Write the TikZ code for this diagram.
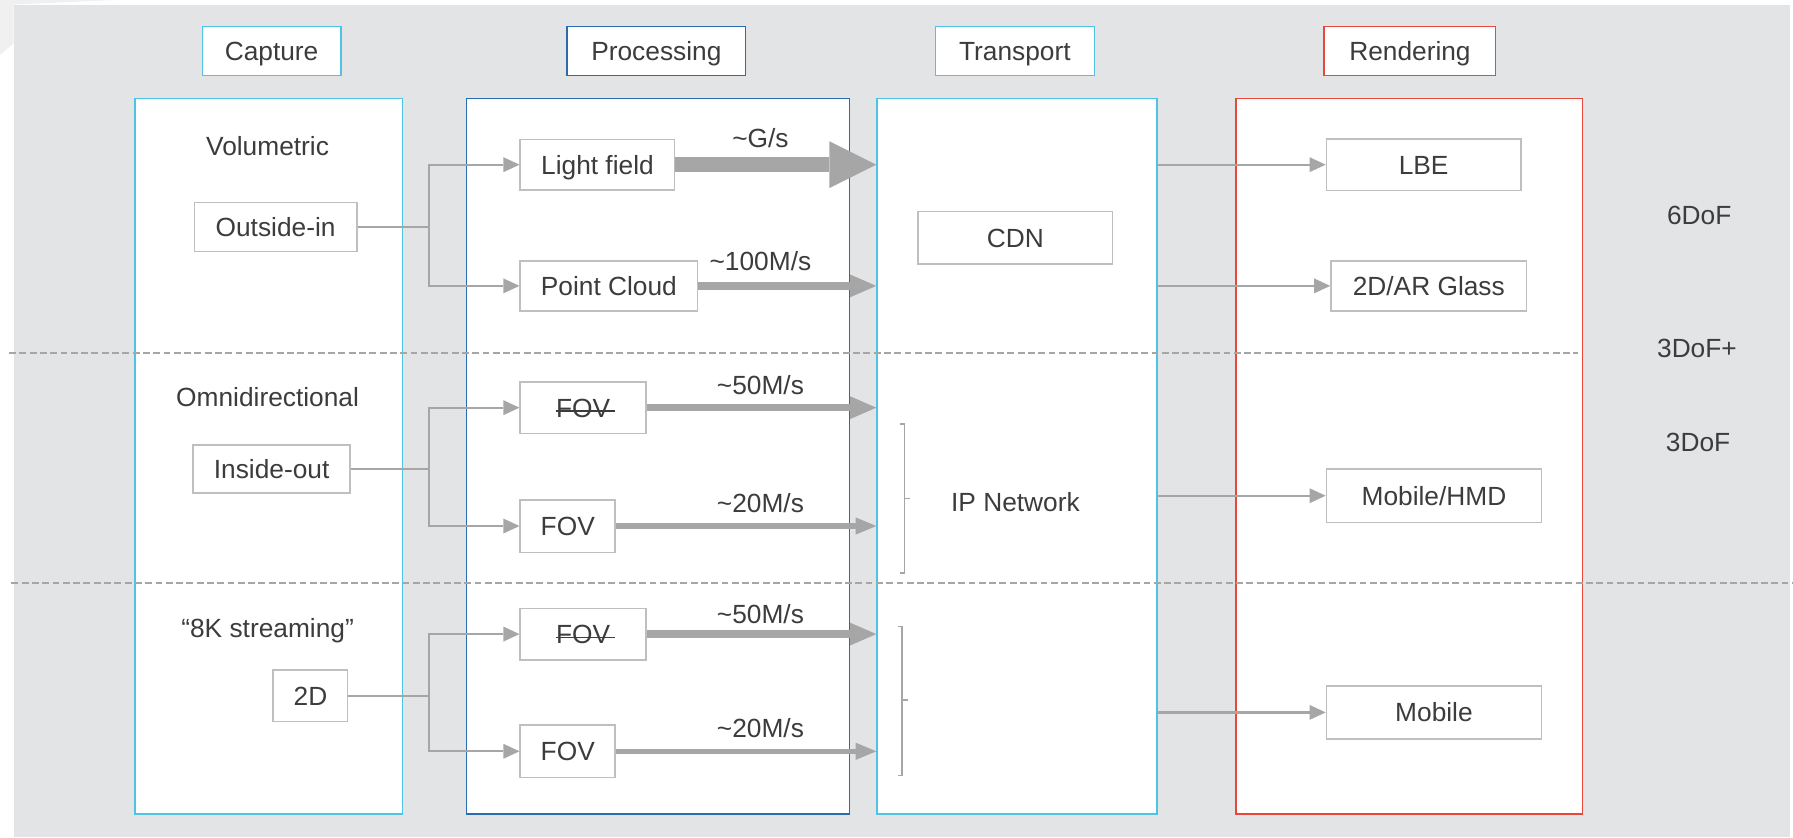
\documentclass[tikz,border=0pt]{standalone}
\usepackage{fontspec}
\setmainfont{Liberation Sans}
\usetikzlibrary{arrows.meta}

\definecolor{panelgray}{HTML}{E3E4E6}
\definecolor{txtgray}{HTML}{3C3C3C}
\definecolor{boxgray}{HTML}{BFBFBF}
\definecolor{arrgray}{HTML}{A6A6A6}
\definecolor{capblue}{HTML}{4FC3E6}
\definecolor{procblue}{HTML}{2B6CB0}
\definecolor{rendred}{HTML}{E8473B}

\tikzset{
  every node/.style={font=\fontsize{23}{27}\selectfont, text=txtgray, text height=16.5pt, text depth=0pt},
  title/.style={draw, fill=white, line width=1.3pt, minimum height=43pt, inner sep=0pt},
  stage/.style={draw, fill=white, line width=1.3pt, minimum height=626pt, inner sep=0pt},
  item/.style={draw=boxgray, fill=white, line width=1.4pt, inner sep=0pt},
  conn/.style={draw=arrgray, line width=2pt, -{Triangle[length=14pt,width=13pt,line width=0pt]}},
  gflow/.style={draw=arrgray, line width=13pt, -{Triangle[length=41pt,width=41pt,line width=0pt]}},
  mflow/.style={draw=arrgray, line width=6.5pt, -{Triangle[length=23pt,width=20pt,line width=0pt]}},
  sflow/.style={draw=arrgray, line width=4.5pt, -{Triangle[length=18pt,width=15pt,line width=0pt]}},
  split/.style={draw=arrgray, line width=1.8pt, dash pattern=on 6pt off 3pt},
  bracket/.style={draw=arrgray, line width=1.4pt},
  strike/.style={draw=txtgray, line width=1.3pt}
}

\begin{document}
\begin{tikzpicture}[x=1pt,y=-1pt]
  \useasboundingbox (0,0) rectangle (1568,732);
  \fill[black!6] (0,0) -- (100,0) -- (12,4) -- (12,38) -- (0,48) -- cycle;
  \fill[panelgray] (12,4) rectangle (1565,732);

  % stage titles
  \node[title, draw=capblue, minimum width=121pt] (tcap) at (237.5,44.5) {Capture};
  \node[title, draw=procblue, minimum width=156pt] (tproc) at (574,44.5) {Processing};
  \node[title, draw=capblue, minimum width=139pt] (ttran) at (887.5,44.5) {Transport};
  \node[title, draw=rendred, minimum width=150pt] (trend) at (1233,44.5) {Rendering};

  % stage boxes
  \node[stage, draw=capblue, minimum width=234pt] (cap) at (235,399) {};
  \node[stage, draw=procblue, minimum width=335pt] (proc) at (575.5,399) {};
  \node[stage, draw=capblue, minimum width=245pt] (tran) at (889.5,399) {};
  \node[stage, draw=rendred, minimum width=303pt] (rend) at (1232.5,399) {};

  % capture
  \node (vol) at (234,128) {Volumetric};
  \node (omni) at (234,347) {Omnidirectional};
  \node (eightk) at (234,549) {“8K streaming”};
  \node[item, minimum width=142pt, minimum height=43pt] (oi) at (241,198.5) {Outside-in};
  \node[item, minimum width=137pt, minimum height=42pt] (io) at (237.5,410) {Inside-out};
  \node[item, minimum width=65pt, minimum height=45pt] (twod) at (271.5,608.5) {2D};

  % processing
  \node[item, minimum width=135pt, minimum height=44pt] (lf) at (522.5,144) {Light field};
  \node[item, minimum width=155pt, minimum height=44pt] (pc) at (532.5,250) {Point Cloud};
  \node[item, minimum width=110pt, minimum height=45pt] (fova) at (510,356.5) {FOV};
  \node[item, minimum width=83pt, minimum height=46pt] (fovb) at (496.5,460) {FOV};
  \node[item, minimum width=110pt, minimum height=45pt] (fovc) at (510,554.5) {FOV};
  \node[item, minimum width=83pt, minimum height=46pt] (fovd) at (496.5,657) {FOV};
  \draw[strike] ([shift={(-24pt,-3pt)}]fova.center) -- ([shift={(28pt,-3pt)}]fova.center);
  \draw[strike] ([shift={(-24pt,-3pt)}]fovc.center) -- ([shift={(28pt,-3pt)}]fovc.center);

  % transport
  \node[item, minimum width=170pt, minimum height=46pt] (cdn) at (888,208) {CDN};
  \node (ipnet) at (888,439) {IP Network};

  % rendering
  \node[item, minimum width=170pt, minimum height=45pt] (lbe) at (1245,144) {LBE};
  \node[item, minimum width=171pt, minimum height=44pt] (arg) at (1249.5,250) {2D/AR Glass};
  \node[item, minimum width=188pt, minimum height=47pt] (hmd) at (1254,433.5) {Mobile/HMD};
  \node[item, minimum width=188pt, minimum height=46pt] (mob) at (1254,623) {Mobile};

  % degrees of freedom
  \node (six) at (1486,188) {6DoF};
  \node (threep) at (1484,304) {3DoF+};
  \node (three) at (1485,387) {3DoF};

  % capture -> processing
  \coordinate (fork) at (375,0);
  \draw[conn] (oi.east) -- (oi.east -| fork) |- (lf.west);
  \draw[conn] (oi.east) -- (oi.east -| fork) |- (pc.west);
  \draw[conn] (io.east) -- (io.east -| fork) |- (fova.west);
  \draw[conn] (io.east) -- (io.east -| fork) |- (fovb.west);
  \draw[conn] (twod.east) -- (twod.east -| fork) |- (fovc.west);
  \draw[conn] (twod.east) -- (twod.east -| fork) |- (fovd.west);

  % processing -> transport
  \draw[gflow] (lf.east) -- (lf.east -| tran.west);
  \draw[mflow] (pc.east) -- (pc.east -| tran.west);
  \draw[mflow] (fova.east) -- (fova.east -| tran.west);
  \draw[sflow] (fovb.east) -- (fovb.east -| tran.west);
  \draw[mflow] (fovc.east) -- (fovc.east -| tran.west);
  \draw[sflow] (fovd.east) -- (fovd.east -| tran.west);
  \node (rg) at (665,121) {\textasciitilde G/s};
  \node (rh) at (665,228) {\textasciitilde 100M/s};
  \node (rfa) at (665,337) {\textasciitilde 50M/s};
  \node (rfb) at (665,440) {\textasciitilde 20M/s};
  \node (rfc) at (665,537) {\textasciitilde 50M/s};
  \node (rfd) at (665,637) {\textasciitilde 20M/s};

  % transport -> rendering
  \draw[conn] (tran.east |- lbe.west) -- (lbe.west);
  \draw[conn] (tran.east |- arg.west) -- (arg.west);
  \draw[conn] (tran.east |- hmd.west) -- (hmd.west);
  \draw[conn] (tran.east |- mob.west) -- (mob.west);

  % brackets
  \draw[bracket] (787,371) -- (791,371) -- (791,501) -- (787,501) (791,436) -- (796,436);
  \draw[bracket] (785,548) -- (789,548) -- (789,678) -- (785,678) (789,612) -- (794,612);

  % dof splits
  \draw[split] (8,309) -- (1380,309);
  \draw[split] (10,510) -- (1568,510);
\end{tikzpicture}
\end{document}
